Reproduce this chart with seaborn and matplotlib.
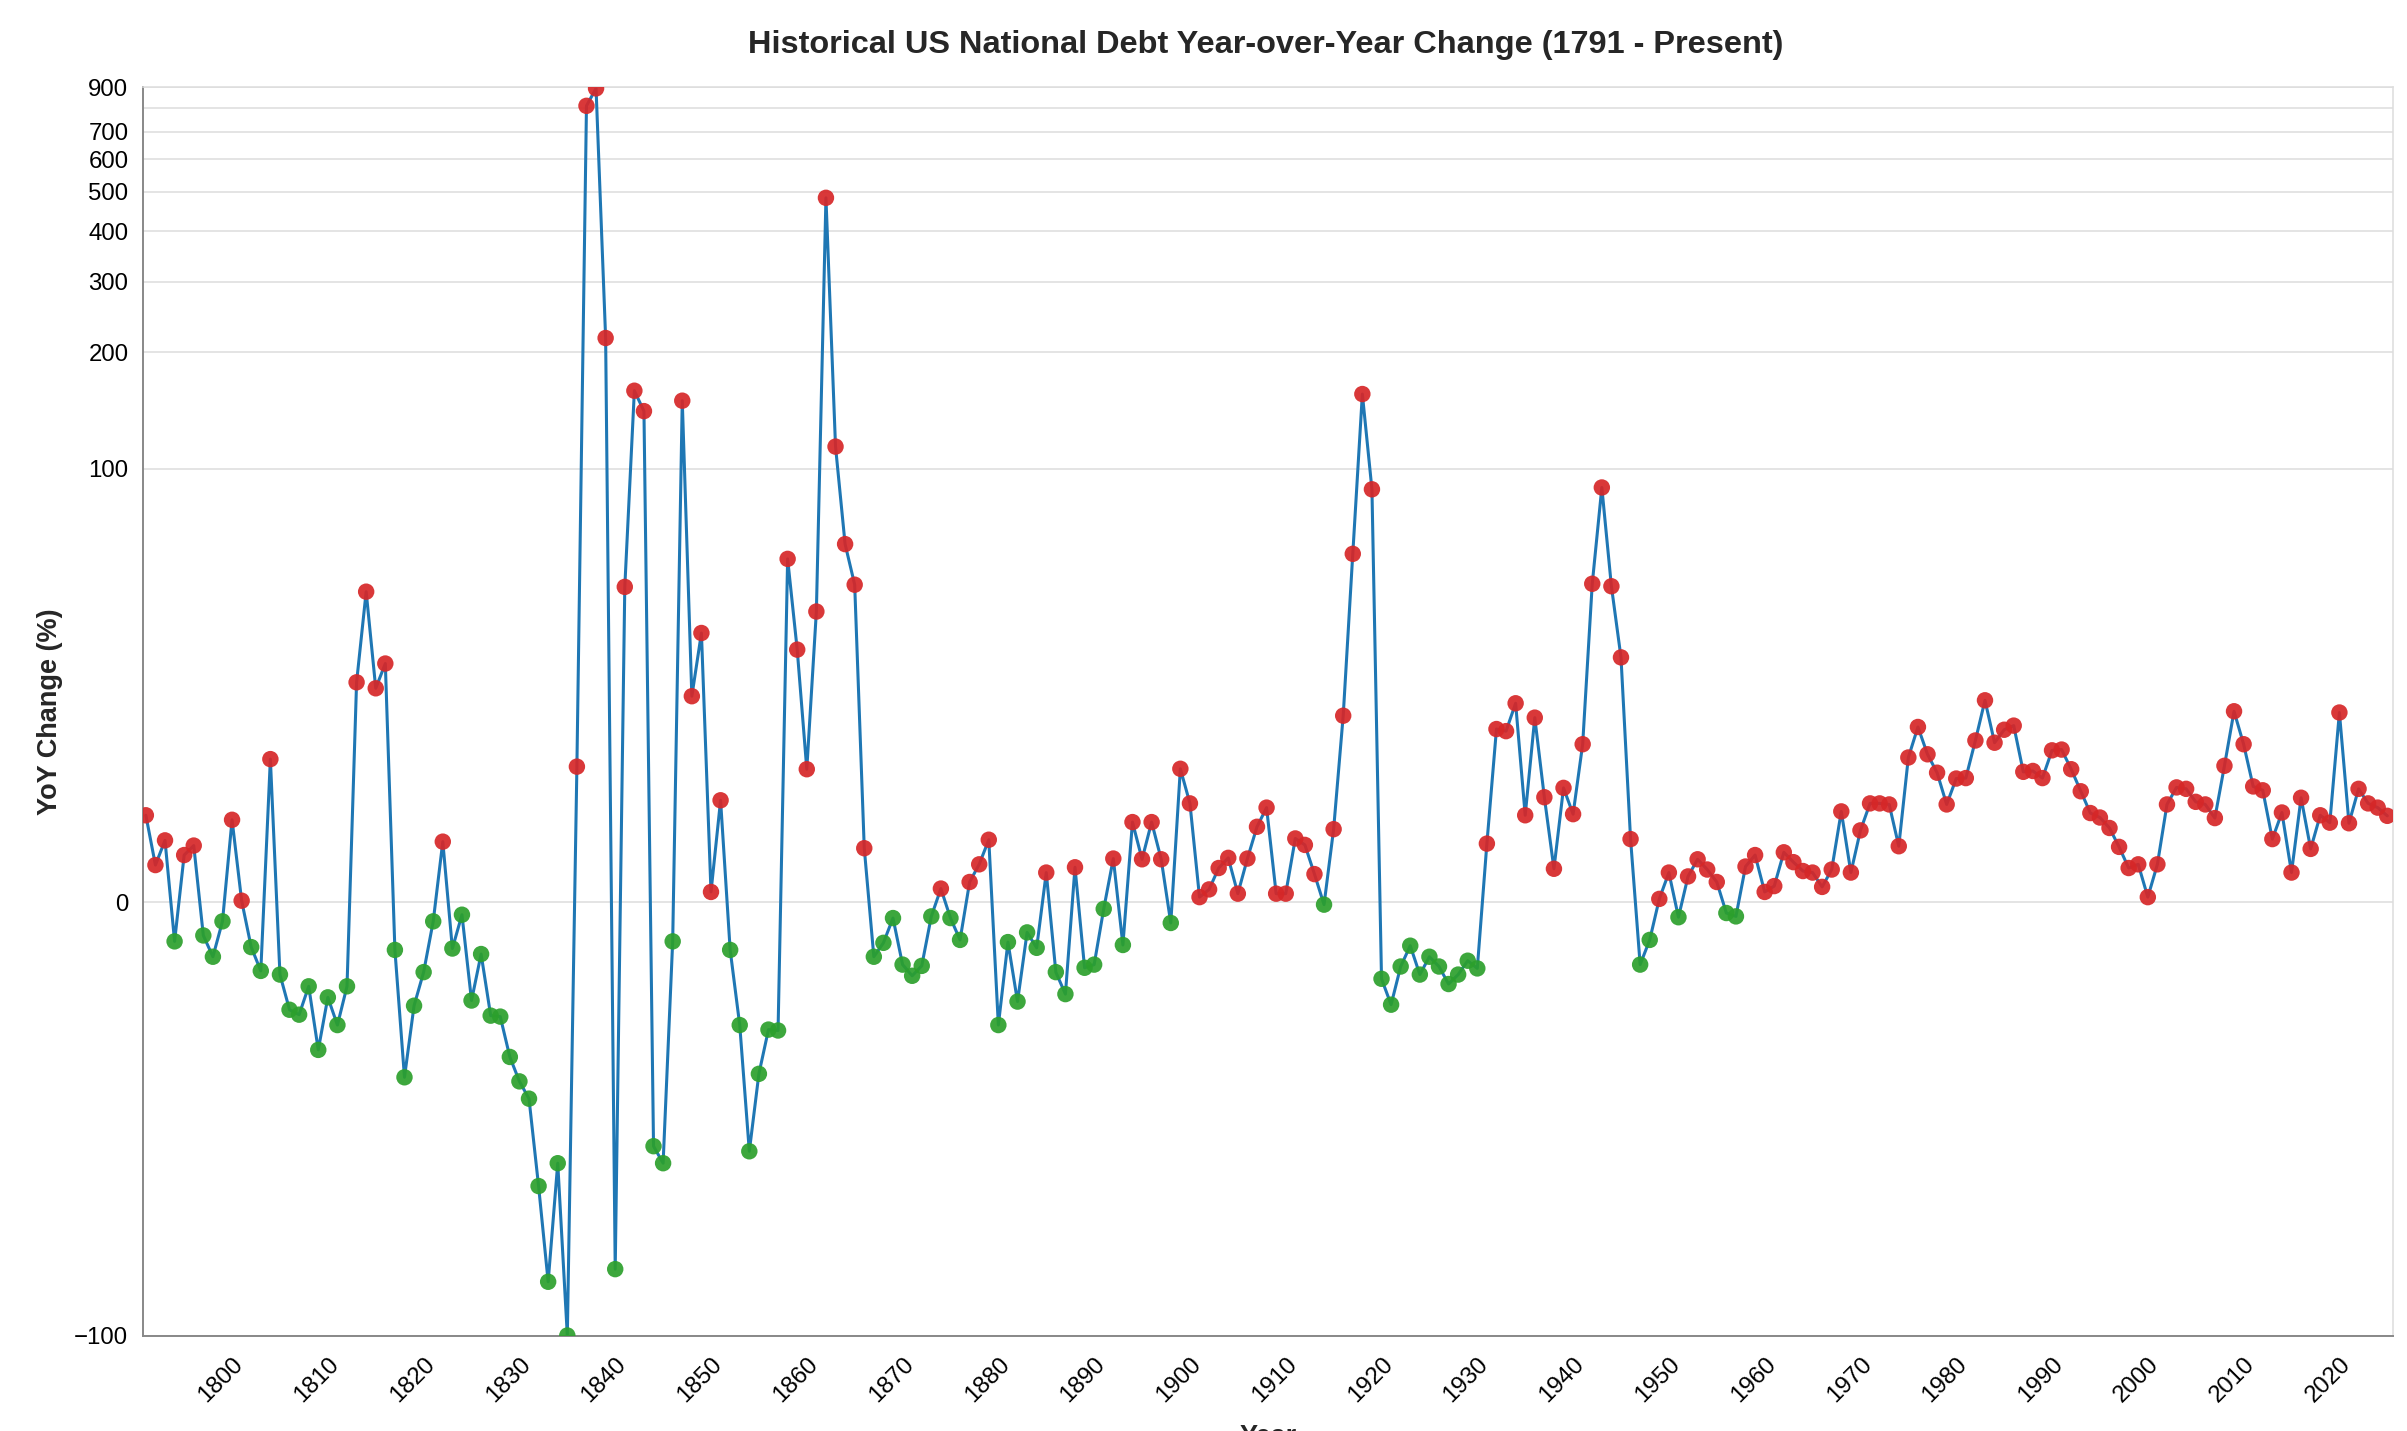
import numpy as np
import pandas as pd
import seaborn as sns
import matplotlib.pyplot as plt

# year-over-year change of the US national debt in percent, 1791 - 2025
years = list(range(1791, 2026))
yoy_change = [
    6.2, 2.3, 4.1, -2.4, 3.0, 3.7, -2.0, -3.5, -1.1,                      # 1791-1799
    5.8, 0.1, -2.8, -4.6, 12.1, -4.9, -8.1, -8.6, -5.9, -12.6,            # 1800s
    -6.9, -9.7, -5.9, 23.8, 45.8, 22.7, 27.5, -3.0, -16.3, -7.7,          # 1810s
    -4.7, -1.1, 4.0, -2.9, -0.7, -7.2, -3.3, -8.7, -8.8, -13.5,           # 1820s
    -16.9, -19.6, -38.0, -71.5, -32.3, -99.7, 11.2, 810, 893, 217,        # 1830s
    -66.0, 47.3, 159.6, 141.5, -28.5, -32.3, -2.4, 150.5, 21.3, 34.4,     # 1840s
    0.6, 7.6, -3.0, -9.7, -29.6, -15.8, -10.2, -10.3, 56.9, 30.5,         # 1850s
    10.9, 40.0, 483, 114.5, 62.6, 48.0, 3.5, -3.5, -2.5, -0.9,            # 1860s
    -4.1, -5.0, -4.2, -0.8, 0.8, -0.9, -2.3, 1.2, 2.35, 4.15,             # 1870s
    -9.7, -2.45, -7.3, -1.8, -2.85, 1.8, -4.7, -6.6, 2.15, -4.35,         # 1880s
    -4.1, -0.36, 2.75, -2.65, 5.6, 2.7, 5.6, 2.7, -1.2, 10.95,            # 1890s
    7.3, 0.3, 0.75, 2.1, 2.8, 0.5, 2.75, 5.2, 6.9, 0.5,                   # 1900s
    0.5, 4.25, 3.75, 1.7, -0.12, 5.0, 18.1, 58.8, 156.5, 88.3,            # 1910s
    -5.25, -7.6, -4.25, -2.7, -4.9, -3.5, -4.25, -5.7, -4.9, -3.8,        # 1920s
    -4.4, 3.85, 16.1, 15.8, 20.1, 6.2, 17.8, 7.9, 2.05, 8.85,             # 1930s
    6.3, 14.0, 48.3, 89.3, 47.5, 28.8, 4.2, -4.1, -2.3, 0.2,              # 1940s
    1.8, -0.85, 1.55, 2.7, 2.0, 1.2, -0.6, -0.8, 2.2, 3.0,                # 1950s
    0.6, 0.95, 3.2, 2.5, 1.9, 1.8, 0.9, 2.0, 6.55, 1.8,                   # 1960s
    4.9, 7.3, 7.3, 7.2, 3.65, 12.3, 16.4, 12.7, 10.5, 7.2,                # 1970s
    9.85, 9.9, 14.5, 20.6, 14.2, 16.0, 16.6, 10.6, 10.7, 9.9,             # 1980s
    13.2, 13.3, 10.9, 8.5, 6.4, 6.0, 5.1, 3.6, 2.1, 2.35,                 # 1990s
    0.3, 2.35, 7.2, 8.9, 8.75, 7.45, 7.2, 5.95, 11.3, 18.8,               # 2000s
    14.0, 9.0, 8.6, 4.2, 6.45, 1.8, 7.85, 3.45, 6.2, 5.55,                # 2010s
    18.6, 5.5, 8.75, 7.3, 6.9, 6.15,                                      # 2020s
]
y_ticks = [-100, 0, 100, 200, 300, 400, 500, 600, 700, 800, 900]
y_tick_labels = ["\u2212100", "0", "100", "200", "300", "400", "500", "600", "700", "", "900"]
x_ticks = list(range(1800, 2021, 10))

df = pd.DataFrame({"Year": years, "Change": yoy_change})
df["Direction"] = np.where(df["Change"] > 0, "up", "down")

sns.set_style("white")
plt.rcParams["font.family"] = ["Liberation Sans", "DejaVu Sans"]

fig = plt.figure(figsize=(24.07, 14.31), dpi=100)
ax = fig.add_axes([0.0594, 0.0664, 0.9348, 0.8728])

sns.lineplot(data=df, x="Year", y="Change", ax=ax, color="#1f77b4",
             linewidth=2.2, estimator=None, zorder=2)
sns.scatterplot(data=df, x="Year", y="Change", hue="Direction", ax=ax,
                palette={"up": "#d62728", "down": "#2ca02c"}, s=140,
                linewidth=0, alpha=0.92, legend=False, zorder=3)


# symlog like vega: sign(y) * log1p(|y| / 10)
def fwd(y):
    y = np.asarray(y, dtype=float)
    return np.sign(y) * np.log1p(np.abs(y) / 10.0)


def inv(y):
    y = np.asarray(y, dtype=float)
    return np.sign(y) * 10.0 * np.expm1(np.abs(y))


ax.set_yscale("function", functions=(fwd, inv))
ax.set_ylim(-100, 900)
ax.set_xlim(1790.7, 2025.6)

ax.set_yticks(y_ticks)
ax.set_yticklabels(y_tick_labels)
ax.set_xticks(x_ticks)
ax.set_xticklabels([str(t) for t in x_ticks], rotation=45, ha="right",
                   va="top", rotation_mode="anchor")
ax.minorticks_off()

ax.tick_params(axis="both", labelsize=17.3, length=7.5, width=1.2,
               color="#888888", labelcolor="black", direction="out")
ax.tick_params(axis="x", pad=5)
ax.tick_params(axis="y", pad=3)

ax.grid(axis="y", color="#dddddd", linewidth=1.1)
ax.grid(axis="x", visible=False)
ax.set_axisbelow(True)

for side in ["left", "bottom"]:
    ax.spines[side].set_color("#888888")
    ax.spines[side].set_linewidth(1.4)
for side in ["top", "right"]:
    ax.spines[side].set_color("#dddddd")
    ax.spines[side].set_linewidth(1.1)

ax.set_ylabel("YoY Change (%)", fontsize=19.5, fontweight="bold", labelpad=8)
ax.set_xlabel("Year", fontsize=19.5, fontweight="bold", va="top")
ax.xaxis.set_label_coords(0.5, -0.0705)

fig.text(0.526, 0.9685, "Historical US National Debt Year-over-Year Change (1791 - Present)",
         ha="center", va="center", fontsize=23.4, fontweight="bold")

fig.savefig("out.png", dpi=100)
